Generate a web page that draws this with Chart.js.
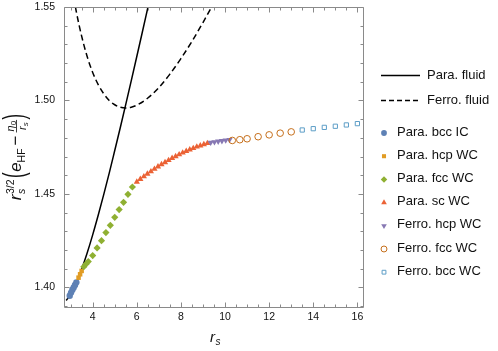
<!DOCTYPE html>
<html><head><meta charset="utf-8">
<script src="https://cdn.jsdelivr.net/npm/chart.js@4/dist/chart.umd.min.js"></script>
<style>html,body{margin:0;padding:0;background:#fff;overflow:hidden}</style>
</head><body>
<canvas id="c" width="498" height="351"></canvas>
<script>
// ---------- data ----------
const paraFluidRs = [2.8,3.0,3.25,3.5,3.75,4.0,4.25,4.5,4.75,5.0,5.25,5.5,5.75,6.0,6.25,6.5,6.75];
const paraFluidE  = [1.3930,1.3963,1.4022,1.4097,1.4184,1.4281,1.4386,1.4496,1.4611,1.4732,1.4854,1.4979,1.5106,1.5235,1.5365,1.5496,1.5627];
const ferroFluidRs = [3.0,3.25,3.5,3.75,4.0,4.25,4.5,4.75,5.0,5.25,5.5,5.75,6.0,6.5,7.0,7.5,8.0,8.5,9.0,9.5,10.0];
const ferroFluidE  = [1.5652,1.5480,1.5344,1.5235,1.5150,1.5085,1.5036,1.5000,1.4977,1.4964,1.4960,1.4964,1.4975,1.5013,1.5069,1.5141,1.5224,1.5316,1.5417,1.5523,1.5635];

const paraBccIcRs = [2.96,3.02,3.08,3.14,3.20,3.26];
const paraBccIcE  = [1.3955,1.3972,1.3987,1.3999,1.4013,1.4027];
const paraHcpRs = [3.36,3.43,3.50];
const paraHcpE  = [1.4052,1.4070,1.4088];
const paraFccRs = [3.6,3.7,3.8,4.0,4.2,4.4,4.6,4.8,5.0,5.2,5.4,5.6,5.8];
const paraFccE  = [1.4111,1.4125,1.4138,1.4170,1.4211,1.4250,1.4293,1.4332,1.4375,1.4416,1.4455,1.4498,1.4537];
const paraScRs = [6.0,6.16,6.32,6.48,6.64,6.8,6.96,7.12,7.28,7.44,7.6,7.76,7.92,8.08,8.24,8.4,8.56,8.72,8.88,9.04,9.2];
const paraScE  = [1.4564,1.4579,1.4593,1.4607,1.4620,1.4633,1.4646,1.4658,1.4669,1.4680,1.4691,1.4701,1.4711,1.4720,1.4729,1.4737,1.4744,1.4752,1.4758,1.4765,1.4771];
const ferroHcpRs = [9.35,9.52,9.69,9.86,10.03,10.2];
const ferroHcpE  = [1.4775,1.4778,1.4781,1.4784,1.4787,1.4790];
const ferroFccRs = [10.33,10.67,11.0,11.5,12.0,12.5,13.0];
const ferroFccE  = [1.4786,1.4790,1.4795,1.4806,1.4816,1.4825,1.4832];
const ferroBccRs = [13.5,14.0,14.5,15.0,15.5,16.0];
const ferroBccE  = [1.4842,1.4849,1.4856,1.4862,1.4869,1.4876];

const lineLabels  = ['Para. fluid','Ferro. fluid'];
const pointLabels = ['Para. bcc IC','Para. hcp WC','Para. fcc WC','Para. sc WC','Ferro. hcp WC','Ferro. fcc WC','Ferro. bcc WC'];
const xMajorTicks = [4,6,8,10,12,14,16];
const yMajorTicks = [1.40,1.45,1.50,1.55];

// ---------- build ----------
const zip = (xs, ys) => xs.map((v, i) => ({x: v, y: ys[i]}));
const FF = '"Liberation Sans", Arial, Helvetica, sans-serif';

const pointStyles = [
  {data: zip(paraBccIcRs, paraBccIcE), pointStyle:'circle',   radius:3.2, bg:'#5E81B5', bc:'#5E81B5', bw:0},
  {data: zip(paraHcpRs, paraHcpE),     pointStyle:'rect',     radius:3.2, bg:'#E19C24', bc:'#E19C24', bw:0},
  {data: zip(paraFccRs, paraFccE),     pointStyle:'rectRot',  radius:3.6, bg:'#8FB032', bc:'#8FB032', bw:0},
  {data: zip(paraScRs, paraScE),       pointStyle:'triangle', radius:3.6, bg:'#EB6235', bc:'#EB6235', bw:0},
  {data: zip(ferroHcpRs, ferroHcpE),   pointStyle:'triangle', radius:3.6, bg:'#8778B3', bc:'#8778B3', bw:0, rot:180},
  {data: zip(ferroFccRs, ferroFccE),   pointStyle:'circle',   radius:3.3, bg:'rgba(255,255,255,0)', bc:'#C56E1A', bw:1},
  {data: zip(ferroBccRs, ferroBccE),   pointStyle:'rect',     radius:3.0, bg:'rgba(255,255,255,0)', bc:'#5D9EC7', bw:1}
];

const datasets = [
  {label: lineLabels[0], data: zip(paraFluidRs, paraFluidE), showLine:true, borderColor:'#000', borderWidth:1.5,
   pointRadius:0, cubicInterpolationMode:'monotone', order:20},
  {label: lineLabels[1], data: zip(ferroFluidRs, ferroFluidE), showLine:true, borderColor:'#000', borderWidth:1.5,
   borderDash:[6,3.5], pointRadius:0, cubicInterpolationMode:'monotone', order:21}
];
pointStyles.forEach((p, i) => datasets.push({
  label: pointLabels[i], data: p.data, showLine:false,
  pointStyle: p.pointStyle, pointRadius: p.radius, pointRotation: p.rot || 0,
  pointBackgroundColor: p.bg, pointBorderColor: p.bc, pointBorderWidth: p.bw,
  order: 10 - i
}));

const isXMajor = v => xMajorTicks.some(t => Math.abs(t - v) < 1e-6);
const isYMajor = v => yMajorTicks.some(t => Math.abs(t - v) < 1e-6);

const framePlugin = {
  id: 'frame',
  afterDatasetsDraw(chart) {
    const {ctx, chartArea: a, scales: {x, y}} = chart;
    const L = Math.round(a.left) + 0.5, R = Math.round(a.right) - 0.5;
    const T = Math.round(a.top) + 0.5, B = Math.round(a.bottom) + 0.5;
    ctx.save();
    ctx.strokeStyle = '#8a8a8a'; ctx.lineWidth = 1;
    ctx.beginPath();
    ctx.rect(L, T, R - L, B - T);
    x.ticks.forEach(t => {
      const px = Math.round(x.getPixelForValue(t.value)) + 0.5;
      const len = isXMajor(t.value) ? 5 : 3;
      ctx.moveTo(px, B); ctx.lineTo(px, B - len);
      ctx.moveTo(px, T); ctx.lineTo(px, T + len);
    });
    y.ticks.forEach(t => {
      const py = Math.round(y.getPixelForValue(t.value)) + 0.5;
      const len = isYMajor(t.value) ? 5 : 3;
      ctx.moveTo(L, py); ctx.lineTo(L + len, py);
      ctx.moveTo(R, py); ctx.lineTo(R - len, py);
    });
    ctx.stroke();
    ctx.restore();
  }
};

const titlesPlugin = {
  id: 'titles',
  afterDraw(chart) {
    const {ctx, chartArea: a} = chart;
    ctx.save();
    ctx.fillStyle = '#111';
    ctx.textBaseline = 'alphabetic';
    ctx.textAlign = 'left';
    // x title: r_s
    ctx.font = 'italic 15px ' + FF;
    const wr = ctx.measureText('r').width;
    const cxT = (a.left + a.right) / 2 - 4;
    ctx.fillText('r', cxT, 342);
    ctx.font = 'italic 10px ' + FF;
    ctx.fillText('s', cxT + wr + 0.5, 345);

    // y title: r_s^{3/2}( e_HF − η0 / r_s )
    const items = [];
    let xx = 0;
    const meas = (t, f) => { ctx.font = f; return ctx.measureText(t).width; };
    const BIG = 'italic 17px ' + FF, BIGN = '17px ' + FF;
    const SUP = '10.5px ' + FF, SUPI = 'italic 10.5px ' + FF;
    const FR = 'italic 11px ' + FF, FRS = '8px ' + FF, FRSI = 'italic 8px ' + FF;
    items.push({t:'r', f:BIG, x:xx, y:0}); xx += meas('r', BIG) + 0.5;
    items.push({t:'3/2', f:SUP, x:xx, y:-7.5});
    items.push({t:'s', f:SUPI, x:xx, y:4});
    xx += Math.max(meas('3/2', SUP), meas('s', SUPI)) + 1.5;
    items.push({t:'(', f:BIGN, x:xx, y:0, paren:true}); xx += meas('(', BIGN) + 0.5;
    items.push({t:'e', f:BIG, x:xx, y:0}); xx += meas('e', BIG);
    items.push({t:'HF', f:SUP, x:xx, y:4}); xx += meas('HF', SUP) + 3;
    items.push({t:'\u2212', f:BIGN, x:xx, y:0}); xx += meas('\u2212', BIGN) + 3;
    const numW = meas('\u03b7', FR) + meas('0', FRS);
    const denW = meas('r', FR) + meas('s', FRSI);
    const fw = Math.max(numW, denW) + 2;
    const nx = xx + (fw - numW) / 2, dx = xx + (fw - denW) / 2;
    items.push({t:'\u03b7', f:FR, x:nx, y:-7.5});
    items.push({t:'0', f:FRS, x:nx + meas('\u03b7', FR), y:-5.5});
    items.push({t:'r', f:FR, x:dx, y:4.5});
    items.push({t:'s', f:FRSI, x:dx + meas('r', FR), y:6.5});
    items.push({bar:true, x:xx, w:fw, y:-4.5});
    xx += fw + 0.5;
    items.push({t:')', f:BIGN, x:xx, y:0, paren:true}); xx += meas(')', BIGN);
    const W = xx;
    ctx.translate(21, (a.top + a.bottom) / 2);
    ctx.rotate(-Math.PI / 2);
    items.forEach(it => {
      const X = it.x - W / 2;
      if (it.bar) {
        ctx.fillRect(X, it.y - 0.4, it.w, 0.8);
      } else if (it.paren) {
        ctx.save();
        ctx.font = it.f;
        ctx.translate(X, -4.5);
        ctx.scale(1, 1.75);
        ctx.fillText(it.t, 0, 4.5);
        ctx.restore();
      } else {
        ctx.font = it.f;
        ctx.fillText(it.t, X, it.y);
      }
    });
    ctx.restore();
  }
};

const legendPlugin = {
  id: 'customLegend',
  afterDraw(chart) {
    const ctx = chart.ctx;
    ctx.save();
    ctx.font = '13px ' + FF;
    ctx.fillStyle = '#111';
    ctx.textBaseline = 'middle';
    ctx.textAlign = 'left';
    [0, 1].forEach(i => {
      const yy = 75 + i * 25;
      ctx.save();
      ctx.strokeStyle = '#000'; ctx.lineWidth = 1.5;
      ctx.setLineDash(i === 1 ? [5, 3] : []);
      ctx.beginPath(); ctx.moveTo(381, yy + 0.5); ctx.lineTo(420, yy + 0.5); ctx.stroke();
      ctx.restore();
      ctx.fillText(lineLabels[i], 427, yy);
    });
    pointStyles.forEach((p, i) => {
      const yy = 132 + i * 23.2;
      ctx.save();
      ctx.fillStyle = p.bg; ctx.strokeStyle = p.bc; ctx.lineWidth = p.bw;
      const opts = {pointStyle: p.pointStyle, radius: p.radius * 0.9, rotation: p.rot || 0, borderWidth: p.bw};
      Chart.helpers.drawPoint(ctx, opts, 384, yy + 1);
      ctx.restore();
      ctx.fillText(pointLabels[i], 397, yy);
    });
    ctx.restore();
  }
};

new Chart(document.getElementById('c'), {
  type: 'scatter',
  data: {datasets},
  options: {
    responsive: false,
    animation: false,
    devicePixelRatio: 1,
    layout: {padding: {left: 0, right: 134, top: 7, bottom: 0}},
    plugins: {legend: {display: false}, tooltip: {enabled: false}},
    scales: {
      x: {
        type: 'linear', min: 2.7, max: 16.3,
        grid: {display: false, drawTicks: false}, border: {display: false},
        afterFit: s => { s.height = 44; s.paddingLeft = 0; s.paddingRight = 0; },
        ticks: {
          stepSize: 0.5, includeBounds: false, autoSkip: false, maxRotation: 0,
          padding: 4, color: '#111', font: {family: FF, size: 10.5},
          callback: v => isXMajor(v) ? String(Math.round(v)) : ''
        }
      },
      y: {
        type: 'linear', min: 1.3895, max: 1.55,
        grid: {display: false, drawTicks: false}, border: {display: false},
        afterFit: s => { s.width = 64; s.paddingTop = 0; s.paddingBottom = 0; },
        ticks: {
          stepSize: 0.01, includeBounds: false, autoSkip: false,
          padding: 9, color: '#111', font: {family: FF, size: 10.5},
          callback: v => isYMajor(v) ? v.toFixed(2) : ''
        }
      }
    }
  },
  plugins: [framePlugin, titlesPlugin, legendPlugin]
});
</script>
</body></html>
